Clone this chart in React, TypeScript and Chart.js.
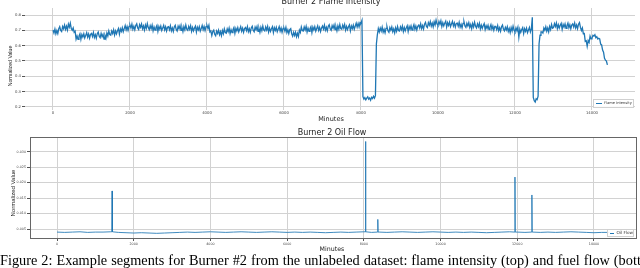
import React, { useEffect, useRef } from "react";
import { Chart, registerables } from "chart.js";

Chart.register(...registerables);

// ---------- DATA ----------
// Flame intensity, one sample every 25 minutes starting at minute 0
const flameStartMinute = 0;
const flameStepMinutes = 25;
const flameIntensity = [
  0.702, 0.682, 0.708, 0.677, 0.699, 0.679, 0.710, 0.724, 0.700, 0.692, 0.725, 0.710, 0.734, 0.706, 0.727, 0.702, 0.741, 0.721, 0.747, 0.711,
  0.700, 0.716, 0.687, 0.695, 0.643, 0.663, 0.642, 0.663, 0.678, 0.641, 0.673, 0.657, 0.678, 0.650, 0.667, 0.685, 0.655, 0.676, 0.649, 0.674,
  0.680, 0.660, 0.686, 0.653, 0.672, 0.649, 0.678, 0.689, 0.662, 0.652, 0.680, 0.658, 0.674, 0.643, 0.667, 0.648, 0.683, 0.663, 0.696, 0.672,
  0.668, 0.696, 0.679, 0.704, 0.669, 0.696, 0.677, 0.697, 0.712, 0.675, 0.709, 0.693, 0.717, 0.691, 0.711, 0.731, 0.703, 0.725, 0.700, 0.726,
  0.734, 0.714, 0.740, 0.707, 0.726, 0.703, 0.732, 0.743, 0.716, 0.706, 0.737, 0.720, 0.741, 0.710, 0.729, 0.702, 0.735, 0.713, 0.744, 0.718,
  0.704, 0.730, 0.711, 0.734, 0.697, 0.722, 0.701, 0.719, 0.732, 0.693, 0.725, 0.707, 0.728, 0.699, 0.716, 0.733, 0.703, 0.723, 0.696, 0.720,
  0.724, 0.704, 0.730, 0.697, 0.716, 0.693, 0.722, 0.733, 0.706, 0.696, 0.727, 0.710, 0.731, 0.700, 0.719, 0.692, 0.725, 0.703, 0.734, 0.708,
  0.700, 0.726, 0.707, 0.730, 0.693, 0.718, 0.697, 0.715, 0.728, 0.689, 0.721, 0.703, 0.724, 0.695, 0.712, 0.732, 0.704, 0.725, 0.699, 0.724,
  0.732, 0.712, 0.733, 0.690, 0.696, 0.666, 0.692, 0.701, 0.674, 0.664, 0.695, 0.679, 0.701, 0.671, 0.691, 0.665, 0.699, 0.678, 0.710, 0.686,
  0.682, 0.709, 0.691, 0.715, 0.679, 0.705, 0.685, 0.704, 0.718, 0.680, 0.713, 0.696, 0.718, 0.690, 0.707, 0.724, 0.694, 0.714, 0.687, 0.711,
  0.718, 0.698, 0.724, 0.691, 0.710, 0.687, 0.716, 0.727, 0.700, 0.690, 0.721, 0.704, 0.725, 0.694, 0.713, 0.686, 0.719, 0.697, 0.728, 0.702,
  0.696, 0.722, 0.703, 0.726, 0.689, 0.714, 0.693, 0.711, 0.724, 0.685, 0.717, 0.699, 0.720, 0.691, 0.708, 0.725, 0.695, 0.715, 0.688, 0.712,
  0.714, 0.694, 0.719, 0.685, 0.704, 0.679, 0.705, 0.711, 0.678, 0.662, 0.687, 0.666, 0.687, 0.658, 0.681, 0.660, 0.701, 0.686, 0.722, 0.699,
  0.696, 0.722, 0.703, 0.726, 0.689, 0.714, 0.693, 0.711, 0.724, 0.685, 0.721, 0.703, 0.724, 0.695, 0.712, 0.729, 0.699, 0.719, 0.692, 0.716,
  0.728, 0.708, 0.734, 0.701, 0.720, 0.697, 0.726, 0.737, 0.710, 0.700, 0.731, 0.714, 0.735, 0.704, 0.723, 0.696, 0.729, 0.707, 0.738, 0.712,
  0.708, 0.734, 0.715, 0.738, 0.701, 0.726, 0.705, 0.723, 0.736, 0.697, 0.729, 0.711, 0.734, 0.707, 0.727, 0.747, 0.721, 0.745, 0.722, 0.751,
  0.748, 0.765, 0.268, 0.252, 0.261, 0.247, 0.258, 0.266, 0.251, 0.259, 0.244, 0.263, 0.255, 0.270, 0.258, 0.274, 0.612, 0.671, 0.712, 0.690,
  0.715, 0.695, 0.721, 0.688, 0.707, 0.684, 0.713, 0.724, 0.697, 0.687, 0.718, 0.701, 0.722, 0.691, 0.710, 0.683, 0.716, 0.694, 0.725, 0.699,
  0.696, 0.723, 0.704, 0.728, 0.692, 0.718, 0.697, 0.716, 0.730, 0.692, 0.725, 0.707, 0.729, 0.701, 0.719, 0.737, 0.707, 0.728, 0.702, 0.727,
  0.734, 0.715, 0.742, 0.711, 0.731, 0.709, 0.740, 0.752, 0.726, 0.718, 0.750, 0.734, 0.757, 0.727, 0.747, 0.722, 0.756, 0.735, 0.767, 0.741,
  0.732, 0.758, 0.739, 0.762, 0.725, 0.750, 0.729, 0.747, 0.760, 0.721, 0.750, 0.732, 0.753, 0.724, 0.741, 0.758, 0.728, 0.748, 0.721, 0.745,
  0.747, 0.727, 0.753, 0.720, 0.739, 0.716, 0.745, 0.756, 0.729, 0.719, 0.746, 0.729, 0.750, 0.719, 0.738, 0.711, 0.744, 0.722, 0.753, 0.727,
  0.716, 0.742, 0.723, 0.746, 0.709, 0.734, 0.713, 0.731, 0.744, 0.705, 0.730, 0.712, 0.733, 0.704, 0.721, 0.738, 0.708, 0.728, 0.701, 0.725,
  0.725, 0.705, 0.731, 0.698, 0.717, 0.694, 0.723, 0.734, 0.707, 0.697, 0.720, 0.703, 0.724, 0.693, 0.712, 0.685, 0.718, 0.696, 0.727, 0.701,
  0.690, 0.716, 0.697, 0.720, 0.655, 0.708, 0.687, 0.705, 0.718, 0.679, 0.711, 0.693, 0.714, 0.685, 0.702, 0.719, 0.689, 0.709, 0.785, 0.262,
  0.241, 0.232, 0.254, 0.248, 0.271, 0.612, 0.668, 0.690, 0.690, 0.682, 0.715, 0.700, 0.723, 0.694, 0.715, 0.690, 0.725, 0.705, 0.738, 0.714,
  0.718, 0.744, 0.725, 0.748, 0.711, 0.736, 0.715, 0.733, 0.746, 0.707, 0.739, 0.721, 0.742, 0.713, 0.730, 0.747, 0.717, 0.737, 0.710, 0.734,
  0.742, 0.722, 0.748, 0.715, 0.734, 0.711, 0.740, 0.751, 0.719, 0.699, 0.715, 0.678, 0.679, 0.628, 0.632, 0.595, 0.633, 0.621, 0.662, 0.644,
  0.650, 0.668, 0.663, 0.672, 0.652, 0.659, 0.644, 0.648, 0.644, 0.610, 0.605, 0.571, 0.557, 0.518, 0.506, 0.499, 0.475,
];

// Oil flow baseline, one sample every 200 minutes
const oilStartMinute = 0;
const oilStepMinutes = 200;
const oilBaseline = [
  0.0040, 0.0039, 0.0040, 0.0041, 0.0039, 0.0040, 0.0040, 0.0041,
  0.0039, 0.0038, 0.0037, 0.0038, 0.0037, 0.0036, 0.0037, 0.0038,
  0.0039, 0.0040, 0.0039, 0.0040, 0.0041, 0.0040, 0.0039, 0.0040,
  0.0041, 0.0040, 0.0039, 0.0040, 0.0041, 0.0040, 0.0039, 0.0040,
  0.0039, 0.0040, 0.0039, 0.0038, 0.0039, 0.0040, 0.0039, 0.0040,
  0.0041, 0.0039, 0.0040, 0.0039, 0.0040, 0.0041, 0.0040, 0.0039,
  0.0040, 0.0041, 0.0040, 0.0039, 0.0040, 0.0039, 0.0040, 0.0039,
  0.0038, 0.0039, 0.0040, 0.0041, 0.0040, 0.0039, 0.0040, 0.0039,
  0.0040, 0.0039, 0.0040, 0.0041, 0.0040, 0.0039, 0.0038, 0.0039,
  0.0039,
];
// Oil flow spikes (minute, peak value)
const oilSpikeMinutes = [1437, 8044, 8364, 11940, 12382];
const oilSpikePeaks = [0.0173, 0.0333, 0.0081, 0.0218, 0.016];

// Tick values
const flameXTicks = [0, 2000, 4000, 6000, 8000, 10000, 12000, 14000];
const flameYTicks = [0.2, 0.3, 0.4, 0.5, 0.6, 0.7, 0.8];
const oilXTicks = [0, 2000, 4000, 6000, 8000, 10000, 12000, 14000];
const oilYTicks = [0.005, 0.01, 0.015, 0.02, 0.025, 0.03];

const BLUE = "#1f77b4";
const FONT = "'DejaVu Sans', sans-serif";

function flamePoints() {
  return flameIntensity.map((v, i) => ({ x: flameStartMinute + i * flameStepMinutes, y: v }));
}

function oilPoints() {
  const pts: { x: number; y: number }[] = oilBaseline.map((v, i) => ({
    x: oilStartMinute + i * oilStepMinutes,
    y: v,
  }));
  oilSpikeMinutes.forEach((m, k) => {
    const idx = Math.round((m - oilStartMinute) / oilStepMinutes);
    const foot = oilBaseline[Math.min(idx, oilBaseline.length - 1)];
    pts.push({ x: m - 8, y: foot }, { x: m, y: oilSpikePeaks[k] }, { x: m + 8, y: foot });
  });
  pts.sort((a, b) => a.x - b.x);
  return pts;
}

const frameBox = {
  id: "frameBox",
  afterDraw(chart: any) {
    const { ctx, chartArea: a } = chart;
    ctx.save();
    ctx.strokeStyle = "#666";
    ctx.lineWidth = 1;
    ctx.strokeRect(Math.round(a.left) + 0.5, Math.round(a.top) + 0.5, Math.round(a.right - a.left), Math.round(a.bottom - a.top));
    ctx.restore();
  },
};

function makeScales(cfg: {
  xMin: number; xMax: number; yMin: number; yMax: number;
  xTicks: number[]; yTicks: number[]; yWidth: number; xHeight: number;
  fontSize: number; yDigits: number; xTickLen: number; yTickLen: number;
}) {
  return {
    x: {
      type: "linear" as const,
      min: cfg.xMin,
      max: cfg.xMax,
      afterBuildTicks: (s: any) => {
        s.ticks = cfg.xTicks.map((v) => ({ value: v }));
      },
      afterFit: (s: any) => {
        s.height = cfg.xHeight;
      },
      ticks: {
        autoSkip: false,
        maxRotation: 0,
        padding: 1,
        color: "#444",
        font: { size: cfg.fontSize, family: FONT },
        callback: (v: any) => String(v),
      },
      grid: {
        color: "#d2d2d2",
        lineWidth: 1,
        drawTicks: cfg.xTickLen > 0,
        tickLength: cfg.xTickLen,
        tickColor: "#555",
      },
      border: { display: false },
    },
    y: {
      min: cfg.yMin,
      max: cfg.yMax,
      afterBuildTicks: (s: any) => {
        s.ticks = cfg.yTicks.map((v) => ({ value: v }));
      },
      afterFit: (s: any) => {
        s.width = cfg.yWidth;
      },
      ticks: {
        autoSkip: false,
        padding: 1,
        color: "#444",
        font: { size: cfg.fontSize, family: FONT },
        callback: (v: any) => Number(v).toFixed(cfg.yDigits),
      },
      grid: {
        color: "#d2d2d2",
        lineWidth: 1,
        drawTicks: true,
        tickLength: cfg.yTickLen,
        tickColor: "#555",
      },
      border: { display: false },
    },
  };
}

function LineChart(props: { kind: "flame" | "oil"; width: number; height: number; top: number }) {
  const ref = useRef<HTMLCanvasElement | null>(null);
  useEffect(() => {
    if (!ref.current) return;
    const isFlame = props.kind === "flame";
    const chart = new Chart(ref.current, {
      type: "line",
      data: {
        datasets: [
          {
            label: isFlame ? "Flame Intensity" : "Oil Flow",
            data: isFlame ? flamePoints() : oilPoints(),
            borderColor: isFlame ? BLUE : "rgba(31,119,180,0.85)",
            borderWidth: isFlame ? 1.3 : 1,
            pointRadius: 0,
            tension: 0,
            fill: false,
          },
        ],
      },
      options: {
        animation: false,
        responsive: false,
        devicePixelRatio: 1,
        layout: isFlame
          ? { padding: { top: 8, right: 5, left: 0, bottom: 0 } }
          : { padding: { top: 15, right: 4, left: 0, bottom: 0 } },
        plugins: {
          legend: { display: false },
          title: { display: false },
          tooltip: { enabled: false },
        },
        scales: isFlame
          ? makeScales({
              xMin: -727, xMax: 15117, yMin: 0.1803, yMax: 0.8457,
              xTicks: flameXTicks, yTicks: flameYTicks, yWidth: 25, xHeight: 12,
              fontSize: 3.8, yDigits: 1, xTickLen: 0, yTickLen: 3,
            })
          : makeScales({
              xMin: -704, xMax: 15096, yMin: 0.00209, yMax: 0.03475,
              xTicks: oilXTicks, yTicks: oilYTicks, yWidth: 30, xHeight: 12,
              fontSize: 3.3, yDigits: 3, xTickLen: 3, yTickLen: 3,
            }),
      } as any,
      plugins: isFlame ? [] : [frameBox],
    });
    return () => chart.destroy();
  }, [props.kind]);
  return (
    <canvas
      ref={ref}
      width={props.width}
      height={props.height}
      style={{ position: "absolute", left: 0, top: props.top, width: props.width, height: props.height }}
    />
  );
}

function Label(props: { text: string; cx: number; cy: number; size: number; rotate?: boolean; family?: string; color?: string }) {
  return (
    <div
      style={{
        position: "absolute",
        left: props.cx,
        top: props.cy,
        transform: `translate(-50%, -50%)${props.rotate ? " rotate(-90deg)" : ""}`,
        fontFamily: props.family || FONT,
        fontSize: props.size,
        lineHeight: 1,
        whiteSpace: "nowrap",
        color: props.color || "#222",
      }}
    >
      {props.text}
    </div>
  );
}

function Legend(props: { text: string; left: number; top: number; width: number; height: number; size: number }) {
  return (
    <div
      style={{
        position: "absolute",
        left: props.left,
        top: props.top,
        width: props.width,
        height: props.height,
        boxSizing: "border-box",
        border: "1px solid #d0d0d0",
        background: "rgba(255,255,255,0.9)",
        display: "flex",
        alignItems: "center",
        paddingLeft: 2,
      }}
    >
      <div style={{ width: 6, height: 1, background: BLUE, marginRight: 2 }} />
      <div style={{ fontFamily: FONT, fontSize: props.size, lineHeight: 1, color: "#333", whiteSpace: "nowrap" }}>
        {props.text}
      </div>
    </div>
  );
}

export default function App() {
  return (
    <div
      style={{
        position: "absolute",
        left: 0,
        top: 0,
        width: 640,
        height: 268,
        overflow: "hidden",
        background: "#fff",
      }}
    >
      <LineChart kind="flame" width={640} height={122} top={0} />
      <LineChart kind="oil" width={640} height={128} top={122} />

      <Label text="Burner 2 Flame Intensity" cx={331} cy={2} size={8} />
      <Label text="Normalized Value" cx={11} cy={66} size={5.2} rotate family="'Liberation Sans', Arial, sans-serif" />
      <Label text="Minutes" cx={331} cy={119} size={6.5} />
      <Legend text="Flame Intensity" left={593} top={99} width={41} height={9} size={3.6} />

      <Label text="Burner 2 Oil Flow" cx={332} cy={133} size={8} />
      <Label text="Normalized Value" cx={13} cy={193} size={6} rotate family="'Liberation Sans', Arial, sans-serif" />
      <Label text="Minutes" cx={332} cy={249} size={6.3} />
      <Legend text="Oil Flow" left={607} top={229} width={27} height={8} size={4.2} />

      <div
        style={{
          position: "absolute",
          left: 0,
          top: 253,
          fontFamily: "'Liberation Serif', 'Times New Roman', serif",
          fontSize: 14.3,
          lineHeight: "14px",
          wordSpacing: 0.4,
          whiteSpace: "nowrap",
          color: "#000",
        }}
      >
        Figure 2: Example segments for Burner #2 from the unlabeled dataset: flame intensity (top) and fuel flow (bottom).
      </div>
    </div>
  );
}
